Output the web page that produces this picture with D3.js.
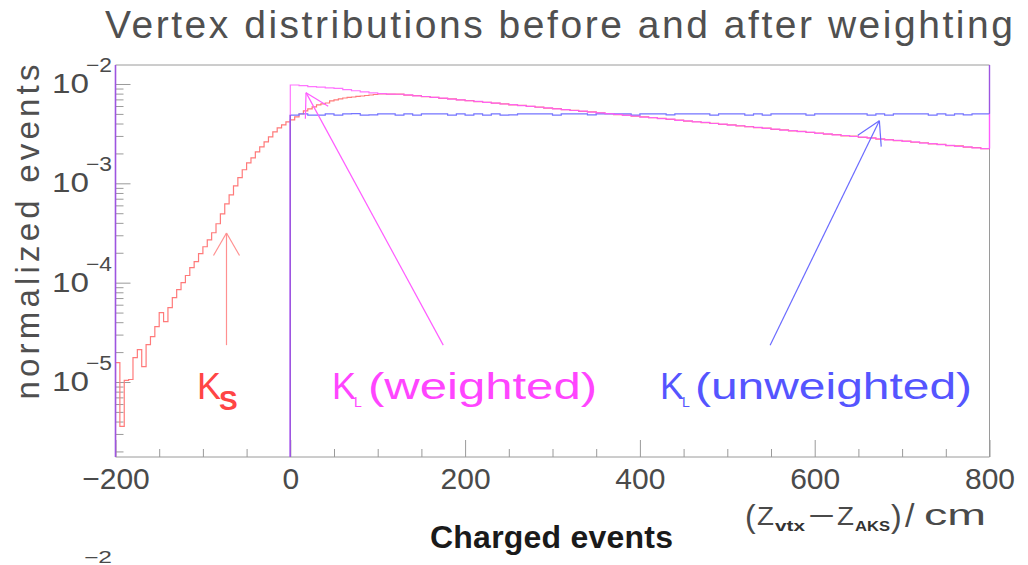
<!DOCTYPE html>
<html>
<head>
<meta charset="utf-8">
<script src="https://cdn.jsdelivr.net/npm/d3@7"></script>
<style>
  body { margin: 0; background: #fff; }
  svg { display: block; }
  text { font-family: "Liberation Sans", Arial, sans-serif; }
</style>
</head>
<body>
<svg id="chart" width="1028" height="565"></svg>
<script>
// K_S vertex distribution, 5 cm bins from -200 to 100 cm
const ksRise = [
  1.57e-5, 3.57e-6, 1.04e-5, 1.06e-5, 1.76e-5, 2.12e-5, 1.43e-5, 2.38e-5, 2.86e-5, 3.61e-5,
  4.99e-5, 4.06e-5, 5.61e-5, 7.06e-5, 8.51e-5, 1.00e-4, 1.18e-4, 1.42e-4, 1.63e-4, 1.96e-4,
  2.30e-4, 2.70e-4, 3.18e-4, 3.92e-4, 4.93e-4, 6.22e-4, 7.66e-4, 9.44e-4, 1.14e-3, 1.37e-3,
  1.61e-3, 1.80e-3, 2.07e-3, 2.33e-3, 2.61e-3, 2.93e-3, 3.30e-3, 3.61e-3, 3.87e-3, 4.15e-3,
  4.35e-3, 4.66e-3, 4.99e-3, 5.36e-3, 5.61e-3, 5.87e-3, 6.15e-3, 6.30e-3, 6.44e-3, 6.75e-3,
  6.91e-3, 7.07e-3, 7.23e-3, 7.32e-3, 7.40e-3, 7.49e-3, 7.57e-3, 7.66e-3, 7.75e-3, 7.84e-3
];
// K_S vertex distribution, 10 cm bins from 100 to 800 cm
const ksTail = [
  7.93e-3, 7.92e-3, 7.91e-3, 7.74e-3, 7.62e-3, 7.46e-3, 7.34e-3, 7.18e-3, 7.07e-3, 6.91e-3,
  6.80e-3, 6.66e-3, 6.55e-3, 6.41e-3, 6.31e-3, 6.17e-3, 6.08e-3, 5.94e-3, 5.85e-3, 5.72e-3,
  5.64e-3, 5.51e-3, 5.43e-3, 5.31e-3, 5.23e-3, 5.11e-3, 5.04e-3, 4.92e-3, 4.85e-3, 4.74e-3,
  4.67e-3, 4.57e-3, 4.50e-3, 4.40e-3, 4.33e-3, 4.23e-3, 4.17e-3, 4.08e-3, 4.02e-3, 3.93e-3,
  3.87e-3, 3.78e-3, 3.73e-3, 3.64e-3, 3.59e-3, 3.50e-3, 3.46e-3, 3.37e-3, 3.33e-3, 3.25e-3,
  3.21e-3, 3.13e-3, 3.09e-3, 3.01e-3, 2.98e-3, 2.90e-3, 2.87e-3, 2.79e-3, 2.76e-3, 2.69e-3,
  2.66e-3, 2.59e-3, 2.56e-3, 2.49e-3, 2.47e-3, 2.40e-3, 2.38e-3, 2.31e-3, 2.29e-3, 2.23e-3
];
// K_L weighted, 10 cm bins from 0 to 800 cm
const klWeighted = [
  9.77e-3, 9.62e-3, 9.40e-3, 9.28e-3, 9.15e-3, 9.02e-3, 8.78e-3, 8.55e-3, 8.33e-3, 8.14e-3,
  8.00e-3, 7.92e-3, 7.88e-3, 7.76e-3, 7.60e-3, 7.48e-3, 7.32e-3, 7.20e-3, 7.05e-3, 6.93e-3,
  6.78e-3, 6.68e-3, 6.53e-3, 6.43e-3, 6.29e-3, 6.19e-3, 6.06e-3, 5.96e-3, 5.83e-3, 5.74e-3,
  5.62e-3, 5.53e-3, 5.41e-3, 5.33e-3, 5.21e-3, 5.13e-3, 5.02e-3, 4.94e-3, 4.83e-3, 4.76e-3,
  4.65e-3, 4.59e-3, 4.48e-3, 4.42e-3, 4.31e-3, 4.25e-3, 4.15e-3, 4.10e-3, 4.00e-3, 3.95e-3,
  3.85e-3, 3.80e-3, 3.71e-3, 3.66e-3, 3.57e-3, 3.52e-3, 3.44e-3, 3.39e-3, 3.31e-3, 3.27e-3,
  3.19e-3, 3.15e-3, 3.07e-3, 3.03e-3, 2.96e-3, 2.92e-3, 2.85e-3, 2.81e-3, 2.74e-3, 2.71e-3,
  2.64e-3, 2.61e-3, 2.54e-3, 2.51e-3, 2.45e-3, 2.41e-3, 2.36e-3, 2.33e-3, 2.27e-3, 2.24e-3
];
// K_L unweighted, 10 cm bins from 0 to 800 cm
const klUnweighted = [
  4.86e-3, 5.00e-3, 4.87e-3, 4.86e-3, 5.00e-3, 4.87e-3, 5.00e-3, 5.02e-3, 4.86e-3, 4.88e-3,
  5.00e-3, 5.01e-3, 4.87e-3, 5.00e-3, 4.86e-3, 5.00e-3, 5.01e-3, 5.00e-3, 4.86e-3, 5.00e-3,
  4.87e-3, 5.00e-3, 4.86e-3, 5.00e-3, 4.87e-3, 4.88e-3, 5.00e-3, 5.01e-3, 5.00e-3, 5.00e-3,
  4.87e-3, 5.00e-3, 5.00e-3, 5.01e-3, 4.88e-3, 5.00e-3, 5.00e-3, 5.00e-3, 5.01e-3, 4.87e-3,
  5.00e-3, 5.00e-3, 5.00e-3, 4.88e-3, 5.00e-3, 5.01e-3, 5.00e-3, 5.00e-3, 4.86e-3, 5.00e-3,
  5.00e-3, 5.01e-3, 4.87e-3, 5.00e-3, 4.86e-3, 5.00e-3, 5.00e-3, 5.01e-3, 5.00e-3, 4.87e-3,
  5.00e-3, 5.00e-3, 5.00e-3, 5.01e-3, 5.00e-3, 5.00e-3, 4.86e-3, 5.00e-3, 4.87e-3, 5.00e-3,
  5.00e-3, 5.01e-3, 5.00e-3, 4.87e-3, 5.00e-3, 4.86e-3, 5.00e-3, 4.88e-3, 5.00e-3, 5.00e-3
];

const xMajorTicks = [-200, 0, 200, 400, 600, 800];
const xTickLabels = ["\u2212200", "0", "200", "400", "600", "800"];
const yDecades = [-2, -3, -4, -5];
const yDecadeLabels = ["\u22122", "\u22123", "\u22124", "\u22125"];

// arrows: [tail x, tail value, tip x, tip value]
const arrowKs = [-73, 2.35e-5, -73, 3.16e-4];
const arrowKlW = [175, 2.35e-5, 18, 8.18e-3];
const arrowKlU = [549, 2.35e-5, 674, 4.27e-3];

const colors = {
  ks: "#ff7a7a", klw: "#ff5cff", klu: "#7474ff",
  ksText: "#ff4545", klwText: "#ff45ff", kluText: "#5555ff",
  frame: "#9a9a9a", purple: "#9d55e0", text: "#4a4a4a"
};

const svg = d3.select("#chart");
const x = d3.scaleLinear().domain([-200, 800]).range([115.5, 989.5]);
const y = d3.scaleLog().domain([1.758e-6, 1.553e-2]).range([457, 65]);
const [x0, x1] = x.range();
const [yb, yt] = y.range();
const yFloor = y.domain()[0];

svg.append("defs").append("clipPath").attr("id", "plotClip")
  .append("rect").attr("x", x0).attr("y", yt).attr("width", x1 - x0).attr("height", yb - yt);

// axes (ticks pointing into the frame)
const minorX = d3.range(-200, 801, 50).filter(v => v % 200 !== 0);
svg.append("g").attr("transform", `translate(0,${yb})`)
  .call(d3.axisBottom(x).tickValues(minorX).tickSize(-8).tickFormat(""))
  .call(g => g.select(".domain").remove())
  .call(g => g.selectAll("line").attr("stroke", colors.frame));
svg.append("g").attr("transform", `translate(0,${yb})`)
  .call(d3.axisBottom(x).tickValues(xMajorTicks).tickSize(-17).tickPadding(11)
    .tickFormat((d, i) => xTickLabels[i]))
  .call(g => g.select(".domain").remove())
  .call(g => g.selectAll("line").attr("stroke", colors.frame))
  .call(g => g.selectAll("text").attr("font-size", 30).attr("fill", colors.text)
    .attr("font-family", "Liberation Sans, Arial, sans-serif"));

const minorY = [];
for (let e = -6; e <= -3; e++) for (let m = 2; m <= 9; m++) {
  const v = m * Math.pow(10, e);
  if (v > y.domain()[0] && v < y.domain()[1]) minorY.push(v);
}
svg.append("g").attr("transform", `translate(${x0},0)`)
  .call(d3.axisLeft(y).tickValues(minorY).tickSize(-8).tickFormat(""))
  .call(g => g.select(".domain").remove())
  .call(g => g.selectAll("line").attr("stroke", colors.frame));
svg.append("g").attr("transform", `translate(${x0},0)`)
  .call(d3.axisLeft(y).tickValues(yDecades.map(e => Math.pow(10, e))).tickSize(-15).tickFormat(""))
  .call(g => g.select(".domain").remove())
  .call(g => g.selectAll("line").attr("stroke", colors.frame));

// decade labels 10^n
yDecades.forEach((e, i) => {
  const yy = y(Math.pow(10, e));
  svg.append("text").attr("x", 52).attr("y", yy + 9).attr("font-size", 28)
    .attr("fill", colors.text).attr("textLength", 37).attr("lengthAdjust", "spacingAndGlyphs").text("10");
  svg.append("text").attr("x", 86).attr("y", yy - 12).attr("font-size", 20)
    .attr("fill", colors.text).attr("textLength", 26).attr("lengthAdjust", "spacingAndGlyphs").text(yDecadeLabels[i]);
});

// frame
svg.append("line").attr("x1", x0).attr("x2", x1).attr("y1", yt).attr("y2", yt).attr("stroke", colors.frame);
svg.append("line").attr("x1", x0).attr("x2", x1).attr("y1", yb).attr("y2", yb).attr("stroke", colors.frame);
svg.append("line").attr("x1", x1).attr("x2", x1).attr("y1", yt).attr("y2", yb).attr("stroke", colors.frame);

// histograms
function bins(values, start, width) {
  return values.map((v, i) => ({ lo: start + i * width, hi: start + (i + 1) * width, v }));
}
function stepPoints(bs) {
  const pts = [[bs[0].lo, yFloor]];
  bs.forEach(b => { pts.push([b.lo, b.v]); pts.push([b.hi, b.v]); });
  return pts;
}
const line = d3.line().x(d => x(d[0])).y(d => y(d[1]));
const plot = svg.append("g").attr("clip-path", "url(#plotClip)");

const ksBins = bins(ksRise, -200, 5).concat(bins(ksTail, 100, 10));
const klwBins = bins(klWeighted, 0, 10);
const kluBins = bins(klUnweighted, 0, 10);

plot.append("path").attr("d", line(stepPoints(ksBins)))
  .attr("fill", "none").attr("stroke", colors.ks).attr("stroke-width", 1.2);
plot.append("path").attr("d", line(stepPoints(kluBins)))
  .attr("fill", "none").attr("stroke", colors.klu).attr("stroke-width", 1.2);
plot.append("path").attr("d", line(stepPoints(klwBins)))
  .attr("fill", "none").attr("stroke", colors.klw).attr("stroke-width", 1.2).attr("stroke-opacity", 0.85);

// overlapping edges of the two K_L histograms
plot.append("line").attr("x1", x(0)).attr("x2", x(0)).attr("y1", yb).attr("y2", y(klUnweighted[0]))
  .attr("stroke", colors.purple).attr("stroke-width", 1.4);
const lastU = klUnweighted[klUnweighted.length - 1], lastW = klWeighted[klWeighted.length - 1];
svg.append("line").attr("x1", x1).attr("x2", x1).attr("y1", yt).attr("y2", y(lastU))
  .attr("stroke", colors.purple).attr("stroke-width", 1.4);
svg.append("line").attr("x1", x1).attr("x2", x1).attr("y1", y(lastU)).attr("y2", y(lastW))
  .attr("stroke", colors.klw).attr("stroke-width", 1.4);
// left frame edge
svg.append("line").attr("x1", x0).attr("x2", x0).attr("y1", yt).attr("y2", yb)
  .attr("stroke", colors.purple).attr("stroke-width", 1.6);

// arrows
function arrow(a, color) {
  const tx = x(a[0]), ty = y(a[1]), hx = x(a[2]), hy = y(a[3]);
  const ang = Math.atan2(ty - hy, tx - hx);
  const len = 26, spread = Math.PI / 6;
  const g = svg.append("g").attr("stroke", color).attr("stroke-width", 1.2).attr("fill", "none");
  g.append("line").attr("x1", tx).attr("y1", ty).attr("x2", hx).attr("y2", hy);
  [-1, 1].forEach(s => {
    g.append("line").attr("x1", hx).attr("y1", hy)
      .attr("x2", hx + len * Math.cos(ang + s * spread))
      .attr("y2", hy + len * Math.sin(ang + s * spread));
  });
}
arrow(arrowKs, "#ff9090");
arrow(arrowKlW, colors.klw);
arrow(arrowKlU, "#6b6bff");

// series labels
function kLabel(px, sub, subSize, subDy, subBold, color, rest, restX, restLen) {
  svg.append("text").attr("x", px).attr("y", 399).attr("font-size", 36).attr("fill", color).text("K");
  svg.append("text").attr("x", px + 22).attr("y", 399 + subDy).attr("font-size", subSize)
    .attr("font-weight", subBold ? "bold" : "normal").attr("fill", color).text(sub);
  if (rest) {
    svg.append("text").attr("x", restX).attr("y", 399).attr("font-size", 36).attr("fill", color)
      .attr("textLength", restLen).attr("lengthAdjust", "spacingAndGlyphs").text(rest);
  }
}
kLabel(197, "S", 28, 11, true, colors.ksText);
kLabel(332, "L", 14, 8, false, colors.klwText, "(weighted)", 368, 229);
kLabel(660, "L", 14, 8, false, colors.kluText, "(unweighted)", 695, 277);

// title
svg.append("text").attr("x", 105).attr("y", 38).attr("font-size", 39).attr("fill", "#505050")
  .attr("textLength", 908).attr("lengthAdjust", "spacing")
  .text("Vertex distributions before and after weighting");

// y axis title
svg.append("text").attr("transform", "translate(39,232) rotate(-90)")
  .attr("text-anchor", "middle").attr("font-size", 33).attr("fill", "#4f4f4f")
  .attr("textLength", 335).attr("lengthAdjust", "spacing")
  .text("normalized events");

// x axis title
const xt = svg.append("g").attr("fill", colors.text);
xt.append("text").attr("x", 745).attr("y", 527).attr("font-size", 32).text("(");
xt.append("text").attr("x", 757).attr("y", 525).attr("font-size", 25)
  .attr("textLength", 17).attr("lengthAdjust", "spacingAndGlyphs").text("Z");
xt.append("text").attr("x", 775).attr("y", 531).attr("font-size", 15).attr("font-weight", "bold")
  .attr("fill", "#333").attr("textLength", 30).attr("lengthAdjust", "spacingAndGlyphs").text("vtx");
xt.append("text").attr("x", 808).attr("y", 526).attr("font-size", 30)
  .attr("textLength", 27).attr("lengthAdjust", "spacingAndGlyphs").text("\u2212");
xt.append("text").attr("x", 837).attr("y", 525).attr("font-size", 25)
  .attr("textLength", 17).attr("lengthAdjust", "spacingAndGlyphs").text("Z");
xt.append("text").attr("x", 855).attr("y", 531).attr("font-size", 15).attr("font-weight", "bold")
  .attr("fill", "#333").attr("textLength", 35).attr("lengthAdjust", "spacingAndGlyphs").text("AKS");
xt.append("text").attr("x", 891).attr("y", 527).attr("font-size", 32).text(")");
xt.append("text").attr("x", 905).attr("y", 527).attr("font-size", 34).text("/");
xt.append("text").attr("x", 924).attr("y", 525).attr("font-size", 29)
  .attr("textLength", 62).attr("lengthAdjust", "spacingAndGlyphs").text("cm");

svg.append("text").attr("x", 430).attr("y", 548).attr("font-size", 32).attr("font-weight", "bold")
  .attr("fill", "#1a1a1a").attr("textLength", 243).attr("lengthAdjust", "spacing")
  .text("Charged events");

// exponent of the next panel's top label at the page foot
svg.append("text").attr("x", 84).attr("y", 563).attr("font-size", 16).attr("fill", colors.text)
  .attr("textLength", 28).attr("lengthAdjust", "spacingAndGlyphs").text("\u22122");
</script>
</body>
</html>
